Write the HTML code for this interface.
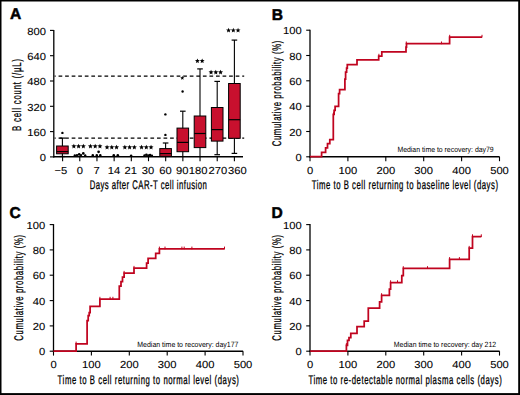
<!DOCTYPE html>
<html><head><meta charset="utf-8"><style>
html,body{margin:0;padding:0;background:#fff;}
body{width:520px;height:395px;overflow:hidden;}
svg{display:block;}
text{font-family:"Liberation Sans", sans-serif;fill:#000;text-rendering:geometricPrecision;}
</style></head><body>
<svg width="520" height="395" viewBox="0 0 520 395">
<rect x="0" y="0" width="520" height="395" fill="#fff"/>
<line x1="53.8" y1="29.9" x2="53.8" y2="157.4" stroke="#000" stroke-width="1.3"/><line x1="53.199999999999996" y1="156.8" x2="243.0" y2="156.8" stroke="#000" stroke-width="1.4"/><line x1="50.0" y1="30.4" x2="53.8" y2="30.4" stroke="#000" stroke-width="1.1"/><text transform="translate(46.0,34.6) scale(1.1,1)" text-anchor="end" font-size="10.2" stroke="#000" stroke-width="0.1">800</text><line x1="50.0" y1="55.7" x2="53.8" y2="55.7" stroke="#000" stroke-width="1.1"/><text transform="translate(46.0,59.900000000000006) scale(1.1,1)" text-anchor="end" font-size="10.2" stroke="#000" stroke-width="0.1">640</text><line x1="50.0" y1="81.0" x2="53.8" y2="81.0" stroke="#000" stroke-width="1.1"/><text transform="translate(46.0,85.2) scale(1.1,1)" text-anchor="end" font-size="10.2" stroke="#000" stroke-width="0.1">480</text><line x1="50.0" y1="106.3" x2="53.8" y2="106.3" stroke="#000" stroke-width="1.1"/><text transform="translate(46.0,110.5) scale(1.1,1)" text-anchor="end" font-size="10.2" stroke="#000" stroke-width="0.1">320</text><line x1="50.0" y1="131.6" x2="53.8" y2="131.6" stroke="#000" stroke-width="1.1"/><text transform="translate(46.0,135.79999999999998) scale(1.1,1)" text-anchor="end" font-size="10.2" stroke="#000" stroke-width="0.1">160</text><line x1="50.0" y1="156.9" x2="53.8" y2="156.9" stroke="#000" stroke-width="1.1"/><text transform="translate(46.0,161.1) scale(1.1,1)" text-anchor="end" font-size="10.2" stroke="#000" stroke-width="0.1">0</text><line x1="62.6" y1="156.8" x2="62.6" y2="161.20000000000002" stroke="#000" stroke-width="1.1"/><text transform="translate(60.8,173.8) scale(1.1,1)" text-anchor="middle" font-size="10.2" stroke="#000" stroke-width="0.1">−5</text><line x1="79.78" y1="156.8" x2="79.78" y2="161.20000000000002" stroke="#000" stroke-width="1.1"/><text transform="translate(79.9,173.8) scale(1.1,1)" text-anchor="middle" font-size="10.2" stroke="#000" stroke-width="0.1">0</text><line x1="96.96000000000001" y1="156.8" x2="96.96000000000001" y2="161.20000000000002" stroke="#000" stroke-width="1.1"/><text transform="translate(96.7,173.8) scale(1.1,1)" text-anchor="middle" font-size="10.2" stroke="#000" stroke-width="0.1">7</text><line x1="114.14" y1="156.8" x2="114.14" y2="161.20000000000002" stroke="#000" stroke-width="1.1"/><text transform="translate(113.9,173.8) scale(1.1,1)" text-anchor="middle" font-size="10.2" stroke="#000" stroke-width="0.1">14</text><line x1="131.32" y1="156.8" x2="131.32" y2="161.20000000000002" stroke="#000" stroke-width="1.1"/><text transform="translate(130.8,173.8) scale(1.1,1)" text-anchor="middle" font-size="10.2" stroke="#000" stroke-width="0.1">21</text><line x1="148.5" y1="156.8" x2="148.5" y2="161.20000000000002" stroke="#000" stroke-width="1.1"/><text transform="translate(148.1,173.8) scale(1.1,1)" text-anchor="middle" font-size="10.2" stroke="#000" stroke-width="0.1">30</text><line x1="165.68" y1="156.8" x2="165.68" y2="161.20000000000002" stroke="#000" stroke-width="1.1"/><text transform="translate(165.4,173.8) scale(1.1,1)" text-anchor="middle" font-size="10.2" stroke="#000" stroke-width="0.1">60</text><line x1="182.85999999999999" y1="156.8" x2="182.85999999999999" y2="161.20000000000002" stroke="#000" stroke-width="1.1"/><text transform="translate(182.2,173.8) scale(1.1,1)" text-anchor="middle" font-size="10.2" stroke="#000" stroke-width="0.1">90</text><line x1="200.04" y1="156.8" x2="200.04" y2="161.20000000000002" stroke="#000" stroke-width="1.1"/><text transform="translate(198.2,173.8) scale(1.1,1)" text-anchor="middle" font-size="10.2" stroke="#000" stroke-width="0.1">180</text><line x1="217.22" y1="156.8" x2="217.22" y2="161.20000000000002" stroke="#000" stroke-width="1.1"/><text transform="translate(217.9,173.8) scale(1.1,1)" text-anchor="middle" font-size="10.2" stroke="#000" stroke-width="0.1">270</text><line x1="234.4" y1="156.8" x2="234.4" y2="161.20000000000002" stroke="#000" stroke-width="1.1"/><text transform="translate(237.4,173.8) scale(1.1,1)" text-anchor="middle" font-size="10.2" stroke="#000" stroke-width="0.1">360</text>
<line x1="54.6" y1="76.1" x2="244.2" y2="76.1" stroke="#000" stroke-width="1.25" stroke-dasharray="3.7 2.86" stroke-dashoffset="2.6"/>
<line x1="54.6" y1="138.1" x2="244.2" y2="138.1" stroke="#000" stroke-width="1.25" stroke-dasharray="3.7 2.86" stroke-dashoffset="2.6"/>
<line x1="62.4" y1="138.1" x2="62.4" y2="156.5" stroke="#000" stroke-width="1.1"/><line x1="59.6" y1="138.1" x2="65.2" y2="138.1" stroke="#000" stroke-width="1.2"/><line x1="59.6" y1="156.5" x2="65.2" y2="156.5" stroke="#000" stroke-width="1.2"/><rect x="56.6" y="146.0" width="11.6" height="7.800000000000011" fill="#c8102e" stroke="#000" stroke-width="1"/><line x1="56.6" y1="151.6" x2="68.2" y2="151.6" stroke="#000" stroke-width="1.2"/>
<circle cx="62.4" cy="132.9" r="1.2" fill="#000"/>
<line x1="165.6" y1="143.0" x2="165.6" y2="156.5" stroke="#000" stroke-width="1.1"/><line x1="162.79999999999998" y1="143.0" x2="168.4" y2="143.0" stroke="#000" stroke-width="1.2"/><rect x="159.79999999999998" y="148.6" width="11.6" height="7.700000000000017" fill="#c8102e" stroke="#000" stroke-width="1"/><line x1="159.79999999999998" y1="153.6" x2="171.4" y2="153.6" stroke="#000" stroke-width="1.2"/>
<circle cx="165.4" cy="114.4" r="1.2" fill="#000"/><circle cx="165.4" cy="134.9" r="1.2" fill="#000"/>
<line x1="182.8" y1="111.2" x2="182.8" y2="156.5" stroke="#000" stroke-width="1.1"/><line x1="180.0" y1="111.2" x2="185.60000000000002" y2="111.2" stroke="#000" stroke-width="1.2"/><rect x="177.0" y="128.1" width="11.6" height="23.599999999999994" fill="#c8102e" stroke="#000" stroke-width="1"/><line x1="177.0" y1="142.4" x2="188.60000000000002" y2="142.4" stroke="#000" stroke-width="1.2"/>
<circle cx="182.6" cy="91.5" r="1.2" fill="#000"/><polygon points="182.30,75.80 182.87,77.22 184.39,77.32 183.22,78.30 183.59,79.78 182.30,78.97 181.01,79.78 181.38,78.30 180.21,77.32 181.73,77.22" fill="#000"/>
<line x1="200.0" y1="68.9" x2="200.0" y2="156.5" stroke="#000" stroke-width="1.1"/><line x1="197.2" y1="68.9" x2="202.8" y2="68.9" stroke="#000" stroke-width="1.2"/><rect x="194.2" y="116.0" width="11.6" height="31.599999999999994" fill="#c8102e" stroke="#000" stroke-width="1"/><line x1="194.2" y1="133.5" x2="205.8" y2="133.5" stroke="#000" stroke-width="1.2"/>
<line x1="217.2" y1="81.4" x2="217.2" y2="154.7" stroke="#000" stroke-width="1.1"/><line x1="214.39999999999998" y1="81.4" x2="220.0" y2="81.4" stroke="#000" stroke-width="1.2"/><line x1="214.39999999999998" y1="154.7" x2="220.0" y2="154.7" stroke="#000" stroke-width="1.2"/><rect x="211.39999999999998" y="107.5" width="11.6" height="33.599999999999994" fill="#c8102e" stroke="#000" stroke-width="1"/><line x1="211.39999999999998" y1="129.6" x2="223.0" y2="129.6" stroke="#000" stroke-width="1.2"/>
<line x1="234.4" y1="40.1" x2="234.4" y2="153.4" stroke="#000" stroke-width="1.1"/><line x1="231.6" y1="40.1" x2="237.20000000000002" y2="40.1" stroke="#000" stroke-width="1.2"/><line x1="231.6" y1="153.4" x2="237.20000000000002" y2="153.4" stroke="#000" stroke-width="1.2"/><rect x="228.6" y="83.5" width="11.6" height="54.80000000000001" fill="#c8102e" stroke="#000" stroke-width="1"/><line x1="228.6" y1="119.7" x2="240.20000000000002" y2="119.7" stroke="#000" stroke-width="1.2"/>
<circle cx="74.8" cy="155.5" r="1.2" fill="#000"/>
<circle cx="77" cy="155.1" r="1.2" fill="#000"/>
<circle cx="79.2" cy="154.4" r="1.3" fill="#000"/>
<circle cx="81" cy="155.1" r="1.2" fill="#000"/>
<circle cx="83.3" cy="153.4" r="1.35" fill="#000"/>
<circle cx="85.2" cy="155.4" r="1.2" fill="#000"/>
<circle cx="92.8" cy="155.4" r="1.3" fill="#000"/>
<circle cx="96.8" cy="155.4" r="1.3" fill="#000"/>
<circle cx="100.3" cy="155.4" r="1.3" fill="#000"/>
<circle cx="98.6" cy="151.8" r="1.35" fill="#000"/>
<circle cx="113.8" cy="155.3" r="1.3" fill="#000"/>
<circle cx="117.8" cy="155.3" r="1.3" fill="#000"/>
<circle cx="131.1" cy="155.6" r="1.2" fill="#000"/>
<circle cx="144.5" cy="155.4" r="1.2" fill="#000"/>
<circle cx="146.4" cy="154.7" r="1.3" fill="#000"/>
<circle cx="148.3" cy="155.4" r="1.2" fill="#000"/>
<circle cx="150.1" cy="155.1" r="1.3" fill="#000"/>
<circle cx="152" cy="155.6" r="1.1" fill="#000"/>
<polygon points="73.85,143.70 74.52,145.37 76.32,145.50 74.94,146.65 75.38,148.40 73.85,147.44 72.32,148.40 72.76,146.65 71.38,145.50 73.18,145.37" fill="#000"/><polygon points="78.60,143.70 79.27,145.37 81.07,145.50 79.69,146.65 80.13,148.40 78.60,147.44 77.07,148.40 77.51,146.65 76.13,145.50 77.93,145.37" fill="#000"/><polygon points="83.35,143.70 84.02,145.37 85.82,145.50 84.44,146.65 84.88,148.40 83.35,147.44 81.82,148.40 82.26,146.65 80.88,145.50 82.68,145.37" fill="#000"/><polygon points="90.45,143.70 91.12,145.37 92.92,145.50 91.54,146.65 91.98,148.40 90.45,147.44 88.92,148.40 89.36,146.65 87.98,145.50 89.78,145.37" fill="#000"/><polygon points="95.20,143.70 95.87,145.37 97.67,145.50 96.29,146.65 96.73,148.40 95.20,147.44 93.67,148.40 94.11,146.65 92.73,145.50 94.53,145.37" fill="#000"/><polygon points="99.95,143.70 100.62,145.37 102.42,145.50 101.04,146.65 101.48,148.40 99.95,147.44 98.42,148.40 98.86,146.65 97.48,145.50 99.28,145.37" fill="#000"/><polygon points="107.05,144.70 107.72,146.37 109.52,146.50 108.14,147.65 108.58,149.40 107.05,148.44 105.52,149.40 105.96,147.65 104.58,146.50 106.38,146.37" fill="#000"/><polygon points="111.80,144.70 112.47,146.37 114.27,146.50 112.89,147.65 113.33,149.40 111.80,148.44 110.27,149.40 110.71,147.65 109.33,146.50 111.13,146.37" fill="#000"/><polygon points="116.55,144.70 117.22,146.37 119.02,146.50 117.64,147.65 118.08,149.40 116.55,148.44 115.02,149.40 115.46,147.65 114.08,146.50 115.88,146.37" fill="#000"/><polygon points="124.85,144.70 125.52,146.37 127.32,146.50 125.94,147.65 126.38,149.40 124.85,148.44 123.32,149.40 123.76,147.65 122.38,146.50 124.18,146.37" fill="#000"/><polygon points="129.60,144.70 130.27,146.37 132.07,146.50 130.69,147.65 131.13,149.40 129.60,148.44 128.07,149.40 128.51,147.65 127.13,146.50 128.93,146.37" fill="#000"/><polygon points="134.35,144.70 135.02,146.37 136.82,146.50 135.44,147.65 135.88,149.40 134.35,148.44 132.82,149.40 133.26,147.65 131.88,146.50 133.68,146.37" fill="#000"/><polygon points="141.55,144.70 142.22,146.37 144.02,146.50 142.64,147.65 143.08,149.40 141.55,148.44 140.02,149.40 140.46,147.65 139.08,146.50 140.88,146.37" fill="#000"/><polygon points="146.30,144.70 146.97,146.37 148.77,146.50 147.39,147.65 147.83,149.40 146.30,148.44 144.77,149.40 145.21,147.65 143.83,146.50 145.63,146.37" fill="#000"/><polygon points="151.05,144.70 151.72,146.37 153.52,146.50 152.14,147.65 152.58,149.40 151.05,148.44 149.52,149.40 149.96,147.65 148.58,146.50 150.38,146.37" fill="#000"/>
<polygon points="197.43,58.40 198.10,60.07 199.90,60.20 198.51,61.35 198.95,63.10 197.43,62.14 195.90,63.10 196.34,61.35 194.95,60.20 196.75,60.07" fill="#000"/><polygon points="202.18,58.40 202.85,60.07 204.65,60.20 203.26,61.35 203.70,63.10 202.18,62.14 200.65,63.10 201.09,61.35 199.70,60.20 201.50,60.07" fill="#000"/><polygon points="211.05,69.70 211.72,71.37 213.52,71.50 212.14,72.65 212.58,74.40 211.05,73.44 209.52,74.40 209.96,72.65 208.58,71.50 210.38,71.37" fill="#000"/><polygon points="215.80,69.70 216.47,71.37 218.27,71.50 216.89,72.65 217.33,74.40 215.80,73.44 214.27,74.40 214.71,72.65 213.33,71.50 215.13,71.37" fill="#000"/><polygon points="220.55,69.70 221.22,71.37 223.02,71.50 221.64,72.65 222.08,74.40 220.55,73.44 219.02,74.40 219.46,72.65 218.08,71.50 219.88,71.37" fill="#000"/><polygon points="228.55,27.80 229.22,29.47 231.02,29.60 229.64,30.75 230.08,32.50 228.55,31.54 227.02,32.50 227.46,30.75 226.08,29.60 227.88,29.47" fill="#000"/><polygon points="233.30,27.80 233.97,29.47 235.77,29.60 234.39,30.75 234.83,32.50 233.30,31.54 231.77,32.50 232.21,30.75 230.83,29.60 232.63,29.47" fill="#000"/><polygon points="238.05,27.80 238.72,29.47 240.52,29.60 239.14,30.75 239.58,32.50 238.05,31.54 236.52,32.50 236.96,30.75 235.58,29.60 237.38,29.47" fill="#000"/>
<text transform="translate(89.7,189.0) scale(0.62,1)" font-size="12.5" textLength="188.87" lengthAdjust="spacing" stroke="#000" stroke-width="0.3">Days after CAR-T cell infusion</text>
<text transform="translate(21.3,130.9) rotate(-90) scale(0.62,1)" font-size="12.5" textLength="115.97" lengthAdjust="spacing" stroke="#000" stroke-width="0.3">B cell count (/µL)</text>
<text x="10.0" y="19.2" font-size="15.6" font-weight="bold" stroke="#000" stroke-width="0.5">A</text>
<line x1="310.0" y1="29.7" x2="310.0" y2="157.4" stroke="#000" stroke-width="1.3"/><line x1="309.4" y1="156.8" x2="499.6" y2="156.8" stroke="#000" stroke-width="1.4"/><line x1="306.2" y1="30.2" x2="310.0" y2="30.2" stroke="#000" stroke-width="1.1"/><text transform="translate(301.8,34.4) scale(1.1,1)" text-anchor="end" font-size="10.2" stroke="#000" stroke-width="0.1">100</text><line x1="306.2" y1="55.5" x2="310.0" y2="55.5" stroke="#000" stroke-width="1.1"/><text transform="translate(301.8,59.7) scale(1.1,1)" text-anchor="end" font-size="10.2" stroke="#000" stroke-width="0.1">80</text><line x1="306.2" y1="80.8" x2="310.0" y2="80.8" stroke="#000" stroke-width="1.1"/><text transform="translate(301.8,85.0) scale(1.1,1)" text-anchor="end" font-size="10.2" stroke="#000" stroke-width="0.1">60</text><line x1="306.2" y1="106.2" x2="310.0" y2="106.2" stroke="#000" stroke-width="1.1"/><text transform="translate(301.8,110.4) scale(1.1,1)" text-anchor="end" font-size="10.2" stroke="#000" stroke-width="0.1">40</text><line x1="306.2" y1="131.5" x2="310.0" y2="131.5" stroke="#000" stroke-width="1.1"/><text transform="translate(301.8,135.7) scale(1.1,1)" text-anchor="end" font-size="10.2" stroke="#000" stroke-width="0.1">20</text><line x1="306.2" y1="156.8" x2="310.0" y2="156.8" stroke="#000" stroke-width="1.1"/><text transform="translate(301.8,161.0) scale(1.1,1)" text-anchor="end" font-size="10.2" stroke="#000" stroke-width="0.1">0</text><line x1="310.0" y1="156.8" x2="310.0" y2="161.20000000000002" stroke="#000" stroke-width="1.1"/><text transform="translate(310.0,173.8) scale(1.1,1)" text-anchor="middle" font-size="10.2" stroke="#000" stroke-width="0.1">0</text><line x1="347.9" y1="156.8" x2="347.9" y2="161.20000000000002" stroke="#000" stroke-width="1.1"/><text transform="translate(347.9,173.8) scale(1.1,1)" text-anchor="middle" font-size="10.2" stroke="#000" stroke-width="0.1">100</text><line x1="385.8" y1="156.8" x2="385.8" y2="161.20000000000002" stroke="#000" stroke-width="1.1"/><text transform="translate(385.8,173.8) scale(1.1,1)" text-anchor="middle" font-size="10.2" stroke="#000" stroke-width="0.1">200</text><line x1="423.7" y1="156.8" x2="423.7" y2="161.20000000000002" stroke="#000" stroke-width="1.1"/><text transform="translate(423.7,173.8) scale(1.1,1)" text-anchor="middle" font-size="10.2" stroke="#000" stroke-width="0.1">300</text><line x1="461.6" y1="156.8" x2="461.6" y2="161.20000000000002" stroke="#000" stroke-width="1.1"/><text transform="translate(461.6,173.8) scale(1.1,1)" text-anchor="middle" font-size="10.2" stroke="#000" stroke-width="0.1">400</text><line x1="499.5" y1="156.8" x2="499.5" y2="161.20000000000002" stroke="#000" stroke-width="1.1"/><text transform="translate(499.5,173.8) scale(1.1,1)" text-anchor="middle" font-size="10.2" stroke="#000" stroke-width="0.1">500</text><polyline points="310.00,156.70 321.60,156.70 321.60,152.40 325.60,152.40 325.60,147.80 327.50,147.80 327.50,143.70 329.80,143.70 329.80,139.50 333.30,139.50 333.30,114.40 334.10,114.40 334.10,110.30 335.10,110.30 335.10,106.30 338.60,106.30 338.60,93.60 339.60,93.60 339.60,89.60 344.90,89.60 344.90,79.00 345.60,79.00 345.60,72.00 346.60,72.00 346.60,68.20 347.30,68.20 347.30,64.60 357.00,64.60 357.00,59.90 378.70,59.90 378.70,56.00 381.80,56.00 381.80,51.80 406.00,51.80 406.00,47.00 406.50,47.00 406.50,43.70 449.60,43.70 449.60,37.00 482.00,37.00" fill="none" stroke="#c0041f" stroke-width="1.75" stroke-linejoin="miter"/><line x1="378.9" y1="56.5" x2="378.9" y2="53.8" stroke="#c0041f" stroke-width="1"/><line x1="406.3" y1="44.2" x2="406.3" y2="41.5" stroke="#c0041f" stroke-width="1"/><line x1="449.7" y1="37.5" x2="449.7" y2="34.8" stroke="#c0041f" stroke-width="1"/><line x1="441.5" y1="44.2" x2="441.5" y2="41.5" stroke="#c0041f" stroke-width="1"/><line x1="482" y1="37.5" x2="482" y2="34.8" stroke="#c0041f" stroke-width="1"/><line x1="333.6" y1="114.9" x2="333.6" y2="112.2" stroke="#c0041f" stroke-width="1"/><text x="397.4" y="151.8" font-size="7.6" textLength="96.30000000000001" lengthAdjust="spacingAndGlyphs">Median time to recovery: day79</text><text transform="translate(311.8,189.0) scale(0.62,1)" font-size="12.5" textLength="300.32" lengthAdjust="spacing" stroke="#000" stroke-width="0.3">Time to B cell returning to baseline level (days)</text><text transform="translate(281.4,146.3) rotate(-90) scale(0.62,1)" font-size="12.5" textLength="170.48" lengthAdjust="spacing" stroke="#000" stroke-width="0.3">Cumulative probability (%)</text><text x="271.8" y="19.7" font-size="15.6" font-weight="bold" stroke="#000" stroke-width="0.5">B</text>
<line x1="53.5" y1="224.1" x2="53.5" y2="351.80000000000007" stroke="#000" stroke-width="1.3"/><line x1="52.9" y1="351.20000000000005" x2="243.10000000000002" y2="351.20000000000005" stroke="#000" stroke-width="1.4"/><line x1="49.7" y1="224.6" x2="53.5" y2="224.6" stroke="#000" stroke-width="1.1"/><text transform="translate(45.3,228.79999999999998) scale(1.1,1)" text-anchor="end" font-size="10.2" stroke="#000" stroke-width="0.1">100</text><line x1="49.7" y1="249.9" x2="53.5" y2="249.9" stroke="#000" stroke-width="1.1"/><text transform="translate(45.3,254.1) scale(1.1,1)" text-anchor="end" font-size="10.2" stroke="#000" stroke-width="0.1">80</text><line x1="49.7" y1="275.2" x2="53.5" y2="275.2" stroke="#000" stroke-width="1.1"/><text transform="translate(45.3,279.4) scale(1.1,1)" text-anchor="end" font-size="10.2" stroke="#000" stroke-width="0.1">60</text><line x1="49.7" y1="300.6" x2="53.5" y2="300.6" stroke="#000" stroke-width="1.1"/><text transform="translate(45.3,304.8) scale(1.1,1)" text-anchor="end" font-size="10.2" stroke="#000" stroke-width="0.1">40</text><line x1="49.7" y1="325.9" x2="53.5" y2="325.9" stroke="#000" stroke-width="1.1"/><text transform="translate(45.3,330.09999999999997) scale(1.1,1)" text-anchor="end" font-size="10.2" stroke="#000" stroke-width="0.1">20</text><line x1="49.7" y1="351.20000000000005" x2="53.5" y2="351.20000000000005" stroke="#000" stroke-width="1.1"/><text transform="translate(45.3,355.40000000000003) scale(1.1,1)" text-anchor="end" font-size="10.2" stroke="#000" stroke-width="0.1">0</text><line x1="53.5" y1="351.20000000000005" x2="53.5" y2="355.6" stroke="#000" stroke-width="1.1"/><text transform="translate(53.5,368.20000000000005) scale(1.1,1)" text-anchor="middle" font-size="10.2" stroke="#000" stroke-width="0.1">0</text><line x1="91.4" y1="351.20000000000005" x2="91.4" y2="355.6" stroke="#000" stroke-width="1.1"/><text transform="translate(91.4,368.20000000000005) scale(1.1,1)" text-anchor="middle" font-size="10.2" stroke="#000" stroke-width="0.1">100</text><line x1="129.3" y1="351.20000000000005" x2="129.3" y2="355.6" stroke="#000" stroke-width="1.1"/><text transform="translate(129.3,368.20000000000005) scale(1.1,1)" text-anchor="middle" font-size="10.2" stroke="#000" stroke-width="0.1">200</text><line x1="167.2" y1="351.20000000000005" x2="167.2" y2="355.6" stroke="#000" stroke-width="1.1"/><text transform="translate(167.2,368.20000000000005) scale(1.1,1)" text-anchor="middle" font-size="10.2" stroke="#000" stroke-width="0.1">300</text><line x1="205.1" y1="351.20000000000005" x2="205.1" y2="355.6" stroke="#000" stroke-width="1.1"/><text transform="translate(205.1,368.20000000000005) scale(1.1,1)" text-anchor="middle" font-size="10.2" stroke="#000" stroke-width="0.1">400</text><line x1="243.0" y1="351.20000000000005" x2="243.0" y2="355.6" stroke="#000" stroke-width="1.1"/><text transform="translate(243.0,368.20000000000005) scale(1.1,1)" text-anchor="middle" font-size="10.2" stroke="#000" stroke-width="0.1">500</text><polyline points="53.50,351.20 76.10,351.20 76.10,343.80 87.10,343.80 87.10,320.60 88.20,320.60 88.20,315.50 89.20,315.50 89.20,312.50 90.10,312.50 90.10,306.40 99.90,306.40 99.90,299.00 119.30,299.00 119.30,286.00 121.00,286.00 121.00,281.50 122.50,281.50 122.50,277.00 124.10,277.00 124.10,273.10 134.00,273.10 134.00,268.10 146.60,268.10 146.60,263.20 148.10,263.20 148.10,258.40 155.70,258.40 155.70,253.40 159.40,253.40 159.40,248.80 224.50,248.80" fill="none" stroke="#c0041f" stroke-width="1.75" stroke-linejoin="miter"/><line x1="76.10000000000002" y1="344.3" x2="76.10000000000002" y2="341.6" stroke="#c0041f" stroke-width="1"/><line x1="99.89999999999998" y1="299.5" x2="99.89999999999998" y2="296.8" stroke="#c0041f" stroke-width="1"/><line x1="110.10000000000002" y1="299.5" x2="110.10000000000002" y2="296.8" stroke="#c0041f" stroke-width="1"/><line x1="112.89999999999998" y1="299.5" x2="112.89999999999998" y2="296.8" stroke="#c0041f" stroke-width="1"/><line x1="165.0" y1="249.3" x2="165.0" y2="246.60000000000002" stroke="#c0041f" stroke-width="1"/><line x1="181.89999999999998" y1="249.3" x2="181.89999999999998" y2="246.60000000000002" stroke="#c0041f" stroke-width="1"/><line x1="184.2" y1="249.3" x2="184.2" y2="246.60000000000002" stroke="#c0041f" stroke-width="1"/><line x1="191.89999999999998" y1="249.3" x2="191.89999999999998" y2="246.60000000000002" stroke="#c0041f" stroke-width="1"/><line x1="224.5" y1="249.3" x2="224.5" y2="246.60000000000002" stroke="#c0041f" stroke-width="1"/><line x1="124.10000000000002" y1="273.6" x2="124.10000000000002" y2="270.90000000000003" stroke="#c0041f" stroke-width="1"/><line x1="134.0" y1="268.6" x2="134.0" y2="265.90000000000003" stroke="#c0041f" stroke-width="1"/><line x1="159.39999999999998" y1="249.3" x2="159.39999999999998" y2="246.60000000000002" stroke="#c0041f" stroke-width="1"/><text x="137.3" y="347.2" font-size="7.6" textLength="101.1" lengthAdjust="spacingAndGlyphs">Median time to recovery: day177</text><text transform="translate(57.6,383.9) scale(0.62,1)" font-size="12.5" textLength="292.42" lengthAdjust="spacing" stroke="#000" stroke-width="0.3">Time to B cell returning to normal level (days)</text><text transform="translate(23.399999999999977,340.70000000000005) rotate(-90) scale(0.62,1)" font-size="12.5" textLength="170.48" lengthAdjust="spacing" stroke="#000" stroke-width="0.3">Cumulative probability (%)</text><text x="9.6" y="217.9" font-size="15.6" font-weight="bold" stroke="#000" stroke-width="0.5">C</text>
<line x1="310.0" y1="224.1" x2="310.0" y2="351.80000000000007" stroke="#000" stroke-width="1.3"/><line x1="309.4" y1="351.20000000000005" x2="499.6" y2="351.20000000000005" stroke="#000" stroke-width="1.4"/><line x1="306.2" y1="224.6" x2="310.0" y2="224.6" stroke="#000" stroke-width="1.1"/><text transform="translate(301.8,228.79999999999998) scale(1.1,1)" text-anchor="end" font-size="10.2" stroke="#000" stroke-width="0.1">100</text><line x1="306.2" y1="249.9" x2="310.0" y2="249.9" stroke="#000" stroke-width="1.1"/><text transform="translate(301.8,254.1) scale(1.1,1)" text-anchor="end" font-size="10.2" stroke="#000" stroke-width="0.1">80</text><line x1="306.2" y1="275.2" x2="310.0" y2="275.2" stroke="#000" stroke-width="1.1"/><text transform="translate(301.8,279.4) scale(1.1,1)" text-anchor="end" font-size="10.2" stroke="#000" stroke-width="0.1">60</text><line x1="306.2" y1="300.6" x2="310.0" y2="300.6" stroke="#000" stroke-width="1.1"/><text transform="translate(301.8,304.8) scale(1.1,1)" text-anchor="end" font-size="10.2" stroke="#000" stroke-width="0.1">40</text><line x1="306.2" y1="325.9" x2="310.0" y2="325.9" stroke="#000" stroke-width="1.1"/><text transform="translate(301.8,330.09999999999997) scale(1.1,1)" text-anchor="end" font-size="10.2" stroke="#000" stroke-width="0.1">20</text><line x1="306.2" y1="351.20000000000005" x2="310.0" y2="351.20000000000005" stroke="#000" stroke-width="1.1"/><text transform="translate(301.8,355.40000000000003) scale(1.1,1)" text-anchor="end" font-size="10.2" stroke="#000" stroke-width="0.1">0</text><line x1="310.0" y1="351.20000000000005" x2="310.0" y2="355.6" stroke="#000" stroke-width="1.1"/><text transform="translate(310.0,368.20000000000005) scale(1.1,1)" text-anchor="middle" font-size="10.2" stroke="#000" stroke-width="0.1">0</text><line x1="347.9" y1="351.20000000000005" x2="347.9" y2="355.6" stroke="#000" stroke-width="1.1"/><text transform="translate(347.9,368.20000000000005) scale(1.1,1)" text-anchor="middle" font-size="10.2" stroke="#000" stroke-width="0.1">100</text><line x1="385.8" y1="351.20000000000005" x2="385.8" y2="355.6" stroke="#000" stroke-width="1.1"/><text transform="translate(385.8,368.20000000000005) scale(1.1,1)" text-anchor="middle" font-size="10.2" stroke="#000" stroke-width="0.1">200</text><line x1="423.7" y1="351.20000000000005" x2="423.7" y2="355.6" stroke="#000" stroke-width="1.1"/><text transform="translate(423.7,368.20000000000005) scale(1.1,1)" text-anchor="middle" font-size="10.2" stroke="#000" stroke-width="0.1">300</text><line x1="461.6" y1="351.20000000000005" x2="461.6" y2="355.6" stroke="#000" stroke-width="1.1"/><text transform="translate(461.6,368.20000000000005) scale(1.1,1)" text-anchor="middle" font-size="10.2" stroke="#000" stroke-width="0.1">400</text><line x1="499.5" y1="351.20000000000005" x2="499.5" y2="355.6" stroke="#000" stroke-width="1.1"/><text transform="translate(499.5,368.20000000000005) scale(1.1,1)" text-anchor="middle" font-size="10.2" stroke="#000" stroke-width="0.1">500</text><polyline points="310.20,351.20 346.40,351.20 346.40,345.30 347.50,345.30 347.50,340.40 349.00,340.40 349.00,337.50 350.80,337.50 350.80,333.30 357.00,333.30 357.00,326.50 364.20,326.50 364.20,321.20 368.30,321.20 368.30,308.20 379.60,308.20 379.60,301.80 381.60,301.80 381.60,295.40 389.40,295.40 389.40,289.00 390.60,289.00 390.60,282.50 401.80,282.50 401.80,275.50 403.30,275.50 403.30,268.40 449.60,268.40 449.60,259.30 469.20,259.30 469.20,248.10 472.50,248.10 472.50,236.50 481.30,236.50" fill="none" stroke="#c0041f" stroke-width="1.75" stroke-linejoin="miter"/><line x1="346.4" y1="345.8" x2="346.4" y2="343.1" stroke="#c0041f" stroke-width="1"/><line x1="381.6" y1="295.9" x2="381.6" y2="293.2" stroke="#c0041f" stroke-width="1"/><line x1="390.6" y1="283.0" x2="390.6" y2="280.3" stroke="#c0041f" stroke-width="1"/><line x1="397.5" y1="283.0" x2="397.5" y2="280.3" stroke="#c0041f" stroke-width="1"/><line x1="403.3" y1="268.9" x2="403.3" y2="266.2" stroke="#c0041f" stroke-width="1"/><line x1="427.5" y1="268.9" x2="427.5" y2="266.2" stroke="#c0041f" stroke-width="1"/><line x1="449.6" y1="259.8" x2="449.6" y2="257.1" stroke="#c0041f" stroke-width="1"/><line x1="459.4" y1="259.8" x2="459.4" y2="257.1" stroke="#c0041f" stroke-width="1"/><line x1="469.2" y1="248.6" x2="469.2" y2="245.9" stroke="#c0041f" stroke-width="1"/><line x1="472.5" y1="237.0" x2="472.5" y2="234.3" stroke="#c0041f" stroke-width="1"/><line x1="481.3" y1="237.0" x2="481.3" y2="234.3" stroke="#c0041f" stroke-width="1"/><text x="393.8" y="346.5" font-size="7.6" textLength="102.30000000000001" lengthAdjust="spacingAndGlyphs">Median time to recovery: day 212</text><text transform="translate(308.4,383.9) scale(0.62,1)" font-size="12.5" textLength="311.94" lengthAdjust="spacing" stroke="#000" stroke-width="0.3">Time to re-detectable normal plasma cells (days)</text><text transform="translate(281.4,340.70000000000005) rotate(-90) scale(0.62,1)" font-size="12.5" textLength="170.48" lengthAdjust="spacing" stroke="#000" stroke-width="0.3">Cumulative probability (%)</text><text x="271.4" y="217.5" font-size="15.6" font-weight="bold" stroke="#000" stroke-width="0.5">D</text>
<rect x="0" y="0" width="520" height="1.5" fill="#000"/><rect x="0" y="0" width="1.5" height="395" fill="#000"/><rect x="518.2" y="0" width="1.8" height="395" fill="#000"/><rect x="0" y="393.1" width="520" height="1.9" fill="#000"/>
</svg>
</body></html>
